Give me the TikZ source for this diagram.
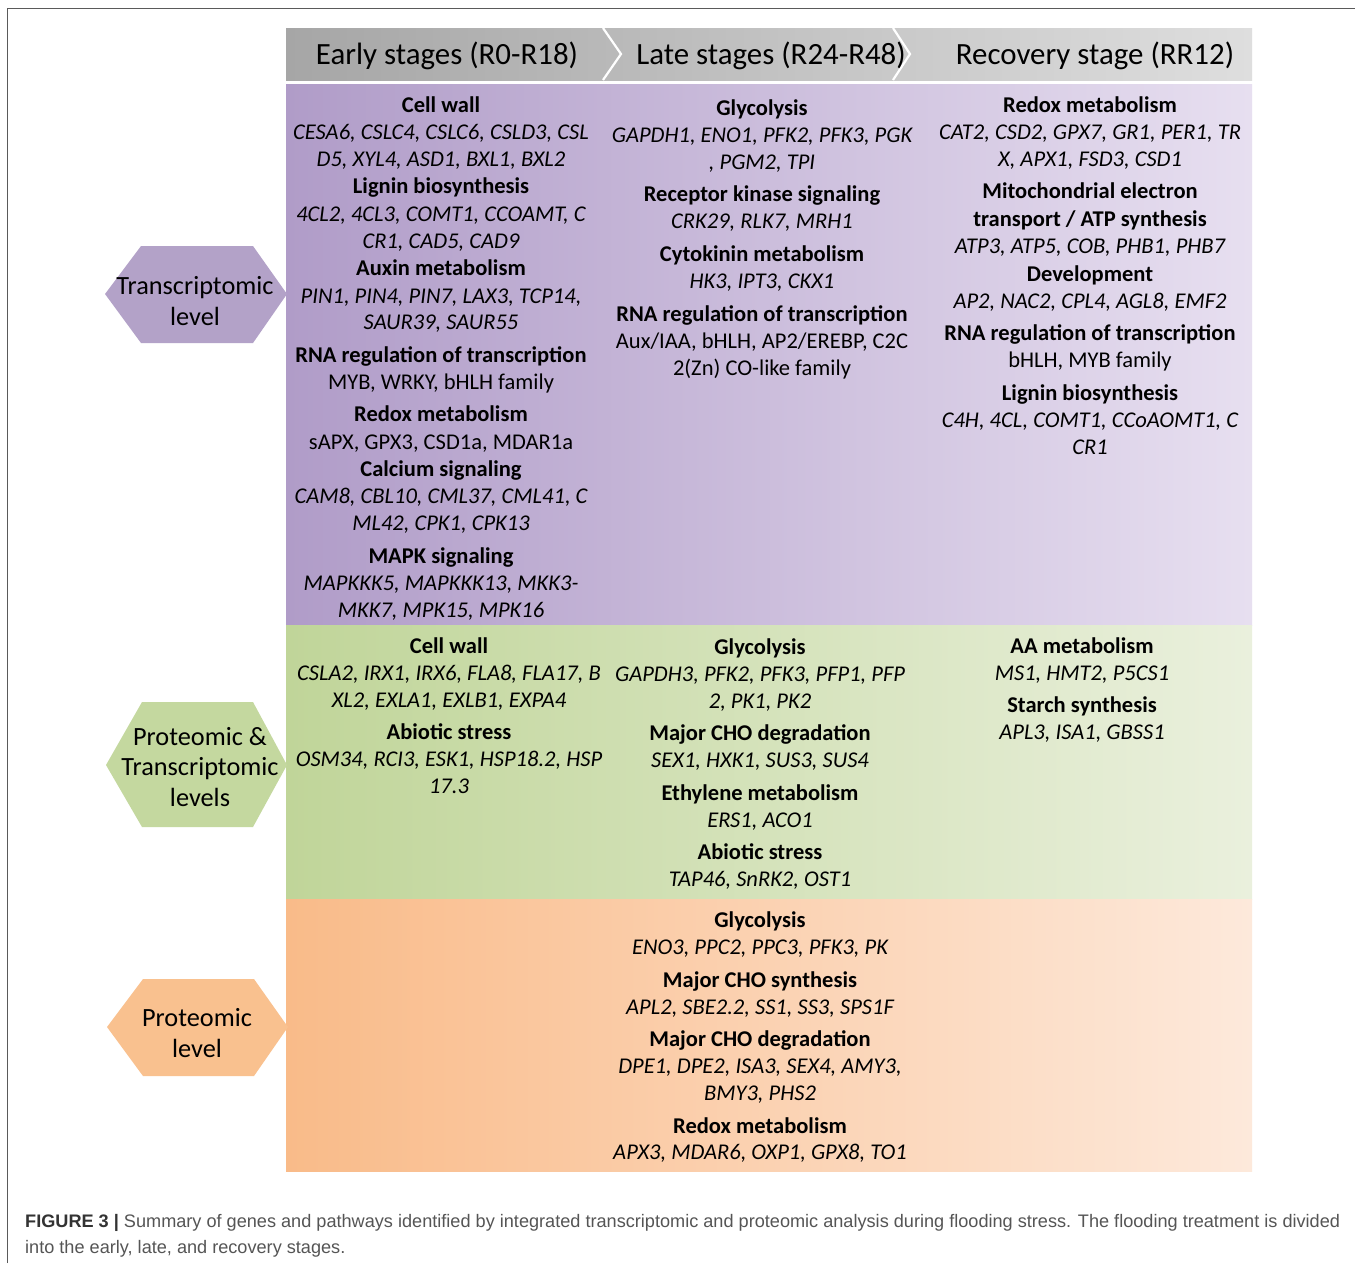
\documentclass[tikz,border=0pt]{standalone}
\usepackage{fontspec}
\setmainfont{Carlito}
\newfontfamily\capfont{Liberation Sans}
\definecolor{frameC}{HTML}{5A5A5A}
\definecolor{hdL}{HTML}{A6A6A6}
\definecolor{hdR}{HTML}{DEDEDE}
\definecolor{puL}{HTML}{B09CC8}
\definecolor{puR}{HTML}{E7DFF0}
\definecolor{grL}{HTML}{C0D599}
\definecolor{grR}{HTML}{EAF0DD}
\definecolor{orL}{HTML}{F9BB89}
\definecolor{orR}{HTML}{FDE9DB}
\definecolor{hexP}{HTML}{B3A2C8}
\definecolor{hexG}{HTML}{C4D89F}
\definecolor{hexO}{HTML}{F9C18F}
\definecolor{capC}{HTML}{555555}
\begin{document}
\begin{tikzpicture}[x=1bp,y=-1bp,
  tt/.style={anchor=base,inner sep=0,font=\fontsize{22.6}{26}\selectfont\bfseries},
  gi/.style={anchor=base,inner sep=0,font=\fontsize{22.6}{26}\selectfont\itshape},
  gu/.style={anchor=base,inner sep=0,font=\fontsize{22.6}{26}\selectfont},
  hd/.style={anchor=base,inner sep=0,font=\fontsize{31}{36}\selectfont},
  hx/.style={align=center,inner sep=0,font=\fontsize{26.4}{31}\selectfont},
  sep/.style={draw=white,line width=2.2bp}]
\useasboundingbox (0,0) rectangle (1355,1263);
\fill[white] (0,0) rectangle (1355,1263);
% frame
\draw[frameC,line width=1.3bp] (7.5,1263) -- (7.5,8.5) -- (1355,8.5);
% header
\shade[left color=hdL,right color=hdR] (286,28) rectangle (1252,80);
\coordinate (s1t) at (603,28); \coordinate (s1m) at (621,54); \coordinate (s1b) at (603,80);
\coordinate (s2t) at (893,28); \coordinate (s2m) at (910,54); \coordinate (s2b) at (893,80);
\draw[sep] (s1t) -- (s1m) -- (s1b);
\draw[sep] (s2t) -- (s2m) -- (s2b);
\node[hd] (h1) at (447,64) {Early stages (R0-R18)};
\node[hd] (h2) at (771,64) {Late stages (R24-R48)};
\node[hd] (h3) at (1095,64) {Recovery stage (RR12)};
% bands
\shade[left color=puL,right color=puR] (286,84) rectangle (1252,625);
\shade[left color=grL,right color=grR] (286,625) rectangle (1252,899);
\shade[left color=orL,right color=orR] (286,899) rectangle (1252,1171);
% hexagons
\fill[hexP] (105,294) -- (141,246) -- (253,246) -- (287,294) -- (253,343) -- (141,343) -- cycle;
\node[hx] (lt) at (195,301) {Transcriptomic\\level};
\fill[hexG] (106,765) -- (142,702) -- (253,702) -- (287,765) -- (253,827) -- (142,827) -- cycle;
\node[hx] (lpt) at (200,767) {Proteomic \&\\Transcriptomic\\levels};
\fill[hexO] (107,1027) -- (143,979) -- (254,979) -- (288,1027) -- (254,1076) -- (143,1076) -- cycle;
\node[hx] (lp) at (197,1033) {Proteomic\\level};
% Transcriptomic, early
\node[tt] (a1) at (441,112) {Cell wall};
\node[gi] (a2) at (441,139) {CESA6, CSLC4, CSLC6, CSLD3, CSL};
\node[gi] (a3) at (441,166) {D5, XYL4, ASD1, BXL1, BXL2};
\node[tt] (a4) at (441,193) {Lignin biosynthesis};
\node[gi] (a5) at (441,221) {4CL2, 4CL3, COMT1, CCOAMT, C};
\node[gi] (a6) at (441,248) {CR1, CAD5, CAD9};
\node[tt] (a7) at (441,275) {Auxin metabolism};
\node[gi] (a8) at (441,303) {PIN1, PIN4, PIN7, LAX3, TCP14,};
\node[gi] (a9) at (441,329) {SAUR39, SAUR55};
\node[tt] (a10) at (441,362) {RNA regulation of transcription};
\node[gu] (a11) at (441,389) {MYB, WRKY, bHLH family};
\node[tt] (a12) at (441,421) {Redox metabolism};
\node[gu] (a13) at (441,449) {sAPX, GPX3, CSD1a, MDAR1a};
\node[tt] (a14) at (441,476) {Calcium signaling};
\node[gi] (a15) at (441,503) {CAM8, CBL10, CML37, CML41, C};
\node[gi] (a16) at (441,530) {ML42, CPK1, CPK13};
\node[tt] (a17) at (441,563) {MAPK signaling};
\node[gi] (a18) at (441,590) {MAPKKK5, MAPKKK13, MKK3-};
\node[gi] (a19) at (441,617) {MKK7, MPK15, MPK16};
% Transcriptomic, late
\node[tt] (b1) at (762,115) {Glycolysis};
\node[gi] (b2) at (762,142) {GAPDH1, ENO1, PFK2, PFK3, PGK};
\node[gi] (b3) at (762,169) {, PGM2, TPI};
\node[tt] (b4) at (762,201) {Receptor kinase signaling};
\node[gi] (b5) at (762,228) {CRK29, RLK7, MRH1};
\node[tt] (b6) at (762,261) {Cytokinin metabolism};
\node[gi] (b7) at (762,288) {HK3, IPT3, CKX1};
\node[tt] (b8) at (762,321) {RNA regulation of transcription};
\node[gu] (b9) at (762,348) {Aux/IAA, bHLH, AP2/EREBP, C2C};
\node[gu] (b10) at (762,375) {2(Zn) CO-like family};
% Transcriptomic, recovery
\node[tt] (c1) at (1090,112) {Redox metabolism};
\node[gi] (c2) at (1090,139) {CAT2, CSD2, GPX7, GR1, PER1, TR};
\node[gi] (c3) at (1090,166) {X, APX1, FSD3, CSD1};
\node[tt] (c4) at (1090,198) {Mitochondrial electron};
\node[tt] (c5) at (1090,226) {transport / ATP synthesis};
\node[gi] (c6) at (1090,253) {ATP3, ATP5, COB, PHB1, PHB7};
\node[tt] (c7) at (1090,281) {Development};
\node[gi] (c8) at (1090,308) {AP2, NAC2, CPL4, AGL8, EMF2};
\node[tt] (c9) at (1090,340) {RNA regulation of transcription};
\node[gu] (c10) at (1090,367) {bHLH, MYB family};
\node[tt] (c11) at (1090,400) {Lignin biosynthesis};
\node[gi] (c12) at (1090,427) {C4H, 4CL, COMT1, CCoAOMT1, C};
\node[gi] (c13) at (1090,454) {CR1};
% Proteomic & Transcriptomic, early
\node[tt] (d1) at (449,653) {Cell wall};
\node[gi] (d2) at (449,680) {CSLA2, IRX1, IRX6, FLA8, FLA17, B};
\node[gi] (d3) at (449,707) {XL2, EXLA1, EXLB1, EXPA4};
\node[tt] (d4) at (449,739) {Abiotic stress};
\node[gi] (d5) at (449,766) {OSM34, RCI3, ESK1, HSP18.2, HSP};
\node[gi] (d6) at (449,793) {17.3};
% Proteomic & Transcriptomic, late
\node[tt] (e1) at (760,654) {Glycolysis};
\node[gi] (e2) at (760,681) {GAPDH3, PFK2, PFK3, PFP1, PFP};
\node[gi] (e3) at (760,708) {2, PK1, PK2};
\node[tt] (e4) at (760,740) {Major CHO degradation};
\node[gi] (e5) at (760,767) {SEX1, HXK1, SUS3, SUS4};
\node[tt] (e6) at (760,800) {Ethylene metabolism};
\node[gi] (e7) at (760,827) {ERS1, ACO1};
\node[tt] (e8) at (760,859) {Abiotic stress};
\node[gi] (e9) at (760,886) {TAP46, SnRK2, OST1};
% Proteomic & Transcriptomic, recovery
\node[tt] (f1) at (1082,653) {AA metabolism};
\node[gi] (f2) at (1082,680) {MS1, HMT2, P5CS1};
\node[tt] (f3) at (1082,712) {Starch synthesis};
\node[gi] (f4) at (1082,739) {APL3, ISA1, GBSS1};
% Proteomic, late
\node[tt] (g1) at (760,927) {Glycolysis};
\node[gi] (g2) at (760,954) {ENO3, PPC2, PPC3, PFK3, PK};
\node[tt] (g3) at (760,987) {Major CHO synthesis};
\node[gi] (g4) at (760,1014) {APL2, SBE2.2, SS1, SS3, SPS1F};
\node[tt] (g5) at (760,1046) {Major CHO degradation};
\node[gi] (g6) at (760,1073) {DPE1, DPE2, ISA3, SEX4, AMY3,};
\node[gi] (g7) at (760,1100) {BMY3, PHS2};
\node[tt] (g8) at (760,1133) {Redox metabolism};
\node[gi] (g9) at (760,1159) {APX3, MDAR6, OXP1, GPX8, TO1};
% caption
\node[anchor=base west,inner sep=0,font=\capfont\fontsize{18.2}{21}\selectfont,text=capC] (cap1) at (25,1227)
  {{\color{black!80}\bfseries FIGURE 3 |} Summary of genes and pathways identified by integrated transcriptomic and proteomic analysis during flooding stress. The flooding treatment is divided};
\node[anchor=base west,inner sep=0,font=\capfont\fontsize{18.2}{21}\selectfont,text=capC] (cap2) at (25,1253)
  {into the early, late, and recovery stages.};
\end{tikzpicture}
\end{document}
